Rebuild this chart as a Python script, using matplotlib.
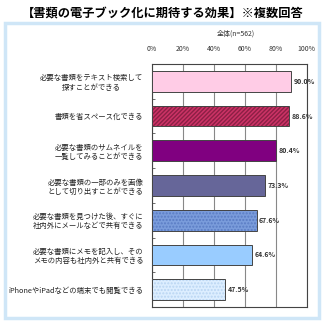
import matplotlib
matplotlib.use("Agg")
import matplotlib.pyplot as plt
from matplotlib.patches import Rectangle

plt.rcParams['font.family'] = ['Noto Sans CJK JP', 'DejaVu Sans']

title = "【書類の電子ブック化に期待する効果】※複数回答"
subtitle = "全体(n=562)"
labels = [
    "必要な書類をテキスト検索して\n探すことができる",
    "書類を省スペース化できる",
    "必要な書類のサムネイルを\n一覧してみることができる",
    "必要な書類の一部のみを画像\nとして切り出すことができる",
    "必要な書類を見つけた後、すぐに\n社内外にメールなどで共有できる",
    "必要な書類にメモを記入し、その\nメモの内容も社内外と共有できる",
    "iPhoneやiPadなどの端末でも閲覧できる",
]
values = [90.0, 88.6, 80.4, 73.3, 67.6, 64.6, 47.5]
ticks = [0, 20, 40, 60, 80, 100]

fills = ['#FFCCE6', '#CC3366', '#800080', '#666699', '#7A9CDB', '#99CCFF', '#DDEEFF']
hatch_cols = [None, '#8C1F45', None, None, '#5A7CC4', None, '#B9D5F2']
hatches = [None, '////////', None, None, '.....', None, '.....']

fig = plt.figure(figsize=(3.25, 3.24), dpi=100)
fig.patches.append(Rectangle((0.015, 0.02), 0.968, 0.91, transform=fig.transFigure,
                             fill=False, edgecolor='#CFE6F7', linewidth=2.5))
fig.text(0.5, 0.958, title, ha='center', va='center', fontsize=8.8, fontweight='bold')
fig.text(0.725, 0.895, subtitle, ha='center', va='center', fontsize=5, color='#333333')

ax = fig.add_axes([0.4668, 0.0525, 0.477, 0.75])
y = list(range(len(values)))
for i in y:
    if hatches[i]:
        ax.barh(i, values[i], height=0.6, color=fills[i], edgecolor=hatch_cols[i],
                hatch=hatches[i], linewidth=0, zorder=3)
        ax.barh(i, values[i], height=0.6, fill=False, edgecolor='#444444',
                linewidth=0.7, zorder=4)
    else:
        ax.barh(i, values[i], height=0.6, color=fills[i], edgecolor='#444444',
                linewidth=0.7, zorder=3)
    ax.text(values[i] + 1.5, i, f"{values[i]:.1f}%", va='center', ha='left',
            fontsize=5, color='#333333', fontweight='bold')

ax.set_xlim(0, 100)
ax.set_ylim(len(values) - 0.5, -0.5)
ax.set_xticks(ticks)
ax.set_xticklabels([f"{t}%" for t in ticks], fontsize=5, color='#333333')
ax.xaxis.tick_top()
ax.tick_params(axis='x', length=0, pad=8)
ax.set_yticks(y)
ax.set_yticklabels(labels, fontsize=5.3, multialignment='center', color='#222222')
ax.tick_params(axis='y', length=0, pad=6)
ax.set_yticks([i + 0.5 for i in y[:-1]], minor=True)
ax.tick_params(axis='y', which='minor', direction='in', length=2, color='#555555')
ax.grid(axis='x', color='#888888', linewidth=0.8, zorder=0)
for s in ax.spines.values():
    s.set_color('#444444')
    s.set_linewidth(0.8)

fig.savefig('out.png', dpi=100)
